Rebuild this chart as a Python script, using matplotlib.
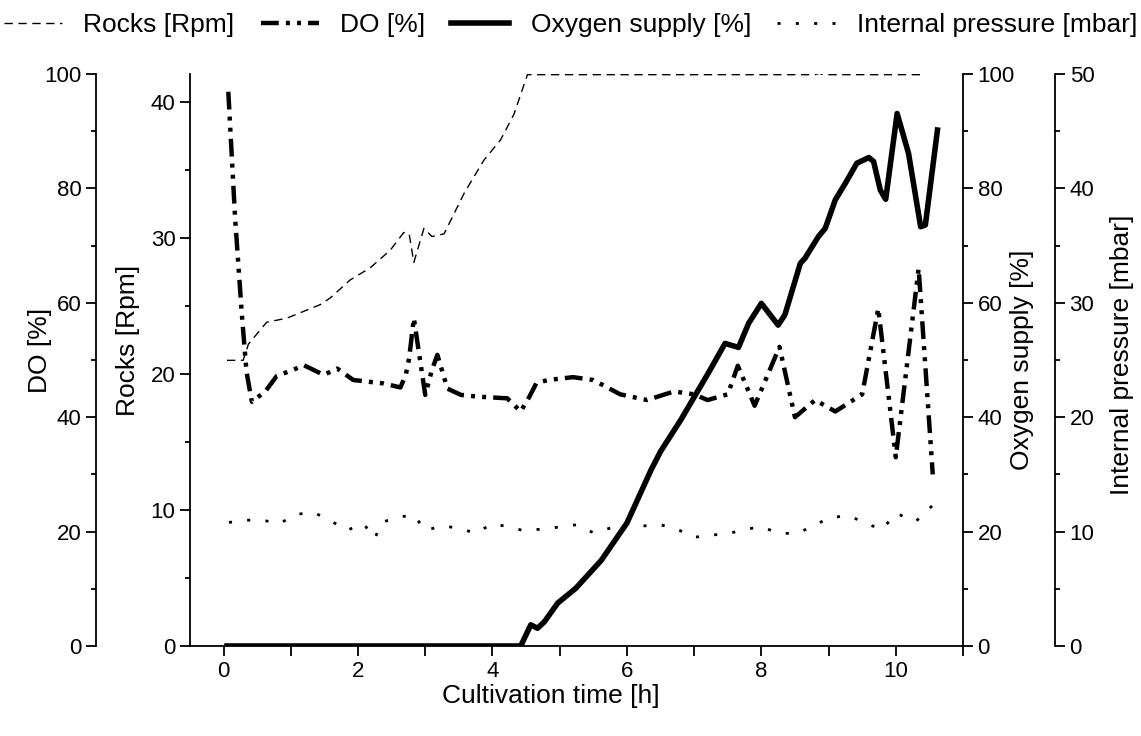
import numpy as np
import matplotlib.pyplot as plt
from matplotlib.ticker import MultipleLocator

plt.rcParams['font.family'] = ['Liberation Sans', 'DejaVu Sans']
plt.rcParams['font.size'] = 16

# Rocks [Rpm]
rocks_t = [0.05, 0.29, 0.37, 0.64, 0.94, 1.44, 1.59, 1.88, 2.18, 2.48, 2.68, 2.76,
           2.83, 2.98, 3.10, 3.28, 3.58, 3.87, 4.12, 4.32, 4.52, 8.80, 8.86, 8.92, 10.44]
rocks_v = [21.0, 21.0, 22.2, 23.8, 24.1, 25.1, 25.6, 26.9, 27.8, 29.1, 30.4, 30.3,
           28.2, 30.7, 30.1, 30.3, 33.3, 35.7, 37.2, 39.1, 42.0, 42.0, 42.1, 42.0, 42.0]

# DO [%]
do_t = [0.07, 0.17, 0.27, 0.34, 0.42, 0.62, 0.79, 1.04, 1.19, 1.49, 1.69, 1.93, 2.38,
        2.63, 2.71, 2.76, 2.83, 2.93, 3.00, 3.10, 3.18, 3.33, 3.53, 3.78, 4.22, 4.42,
        4.55, 4.65, 4.82, 5.2, 5.5, 5.9, 6.3, 6.7, 7.0, 7.2, 7.5, 7.65, 7.9, 8.27, 8.5,
        8.8, 9.1, 9.5, 9.74, 10.0, 10.34, 10.55]
do_v = [96.9, 75.0, 58.2, 48.0, 42.7, 44.5, 47.2, 48.3, 49.1, 47.4, 48.5, 46.5, 45.9,
        45.2, 47.4, 50.3, 57.3, 49.4, 43.9, 48.3, 50.9, 45.0, 43.9, 43.6, 43.3, 41.0,
        43.6, 45.9, 46.5, 47.0, 46.5, 44.0, 43.0, 44.5, 44.0, 43.0, 44.0, 49.0, 42.0,
        52.3, 40.0, 43.0, 41.0, 44.0, 59.0, 33.0, 66.0, 30.0]

# Oxygen supply [%]
o2_t = [0.05, 4.42, 4.57, 4.67, 4.77, 4.97, 5.24, 5.62, 6.0, 6.36, 6.5, 6.8, 7.21,
        7.46, 7.66, 7.81, 8.0, 8.25, 8.35, 8.58, 8.65, 8.85, 8.95, 9.10, 9.25, 9.42,
        9.60, 9.67, 9.77, 9.85, 10.02, 10.19, 10.37, 10.44, 10.62]
o2_v = [0.0, 0.0, 3.7, 3.1, 4.2, 7.5, 10.1, 15.0, 21.5, 30.8, 34.0, 39.5, 47.7,
        52.9, 52.2, 56.4, 59.9, 56.1, 57.9, 66.9, 67.8, 71.6, 73.0, 78.0, 80.9, 84.4,
        85.4, 84.7, 79.7, 78.1, 93.1, 86.1, 73.3, 73.6, 90.2]

# Internal pressure [mbar]
p_t = [0.08, 0.33, 0.58, 0.83, 1.08, 1.33, 1.58, 1.83, 2.08, 2.25, 2.35, 2.58, 2.83,
       3.0, 3.25, 3.5, 3.75, 4.0, 4.25, 4.45, 4.7, 5.0, 5.25, 5.5, 5.75, 6.0, 6.25,
       6.5, 6.75, 7.0, 7.25, 7.5, 7.75, 8.0, 8.25, 8.5, 8.75, 9.0, 9.3, 9.6, 9.8,
       10.0, 10.3, 10.55]
p_v = [10.8, 11.0, 11.0, 10.7, 11.5, 11.7, 11.0, 10.1, 10.7, 9.4, 10.8, 11.25, 11.45,
       10.1, 10.5, 10.3, 9.85, 10.7, 10.4, 10.1, 10.2, 10.4, 10.6, 9.9, 10.3, 10.6,
       10.5, 10.6, 10.2, 9.5, 9.7, 9.8, 10.2, 10.4, 9.9, 9.8, 10.4, 11.2, 11.4, 10.6,
       10.2, 11.6, 10.9, 12.3]

W, H = 1141, 736
x0, x1, y0, y1 = 190, 963, 646, 74       # plot box in pixels
aw, ah = x1 - x0, y0 - y1

fig = plt.figure(figsize=(W / 100, H / 100), dpi=100)
ax = fig.add_axes([x0 / W, (H - y0) / H, aw / W, ah / H])
ax_do = ax.twinx()
ax_o2 = ax.twinx()
ax_p = ax.twinx()

lw_sp = 1.3
for a in (ax, ax_do, ax_o2, ax_p):
    for s in a.spines.values():
        s.set_visible(False)
        s.set_linewidth(lw_sp)
    a.patch.set_visible(False)
    a.tick_params(which='both', direction='out', width=lw_sp, labelsize=16)
    a.tick_params(which='major', length=7)
    a.tick_params(which='minor', length=3.6)

lab_fs = 19

# main axes: rocks on the left, time on the bottom
ax.spines['left'].set_visible(True)
ax.spines['bottom'].set_visible(True)
ax.set_xlim(-0.5, 11)
ax.set_ylim(0, 42.05)
ax.xaxis.set_major_locator(MultipleLocator(2))
ax.xaxis.set_minor_locator(MultipleLocator(1))
ax.tick_params(axis='x', which='minor', length=7)
ax.yaxis.set_major_locator(MultipleLocator(10))
ax.yaxis.set_minor_locator(MultipleLocator(5))
ax.set_xlabel('Cultivation time [h]', fontsize=lab_fs)
ax.xaxis.label.set_va('center')
ax.xaxis.set_label_coords((551 - x0) / aw, (y0 - 696) / ah)
ax.set_ylabel('Rocks [Rpm]', fontsize=lab_fs)

# DO on an outer left axis
ax_do.spines['left'].set_visible(True)
ax_do.spines['left'].set_position(('axes', (96 - x0) / aw))
ax_do.yaxis.set_ticks_position('left')
ax_do.yaxis.set_label_position('left')
ax_do.set_ylim(0, 100)
ax_do.yaxis.set_major_locator(MultipleLocator(20))
ax_do.yaxis.set_minor_locator(MultipleLocator(10))
ax_do.set_ylabel('DO [%]', fontsize=lab_fs)

# oxygen supply on the right
ax_o2.spines['right'].set_visible(True)
ax_o2.set_ylim(0, 100)
ax_o2.yaxis.set_major_locator(MultipleLocator(20))
ax_o2.yaxis.set_minor_locator(MultipleLocator(10))
ax_o2.set_ylabel('Oxygen supply [%]', fontsize=lab_fs)

# internal pressure on the outer right
ax_p.spines['right'].set_visible(True)
ax_p.spines['right'].set_position(('axes', (1055 - x0) / aw))
ax_p.set_ylim(0, 50)
ax_p.yaxis.set_major_locator(MultipleLocator(10))
ax_p.yaxis.set_minor_locator(MultipleLocator(5))
ax_p.set_ylabel('Internal pressure [mbar]', fontsize=lab_fs)

# y-label centres (pixels)
for a, (lx, ly) in zip((ax_do, ax, ax_o2, ax_p),
                       [(40, 350), (128, 340), (1022, 360), (1122, 355)]):
    a.yaxis.label.set_va('center')
    a.yaxis.set_label_coords((lx - x0) / aw, (y0 - ly) / ah)

l_rocks, = ax.plot(rocks_t, rocks_v, color='black', lw=1.0, dashes=(6, 4))
l_do, = ax_do.plot(do_t, do_v, color='black', lw=3.2, dashes=(4, 1.6, 0.9, 1.6, 0.9, 1.6))
l_o2, = ax_o2.plot(o2_t, o2_v, color='black', lw=4.0, solid_joinstyle='round')
l_p, = ax_p.plot(p_t, p_v, color='black', lw=2.0, dashes=(1.1, 5.5))

fig.legend([l_rocks, l_do, l_o2, l_p],
           ['Rocks [Rpm]', 'DO [%]', 'Oxygen supply [%]', 'Internal pressure [mbar]'],
           loc='upper center', bbox_to_anchor=(0.5, 1.0), ncol=4, frameon=False,
           fontsize=lab_fs, handlelength=2.2, handletextpad=0.8, columnspacing=1.0,
           borderaxespad=0.1)

fig.savefig('out.png', dpi=100)
